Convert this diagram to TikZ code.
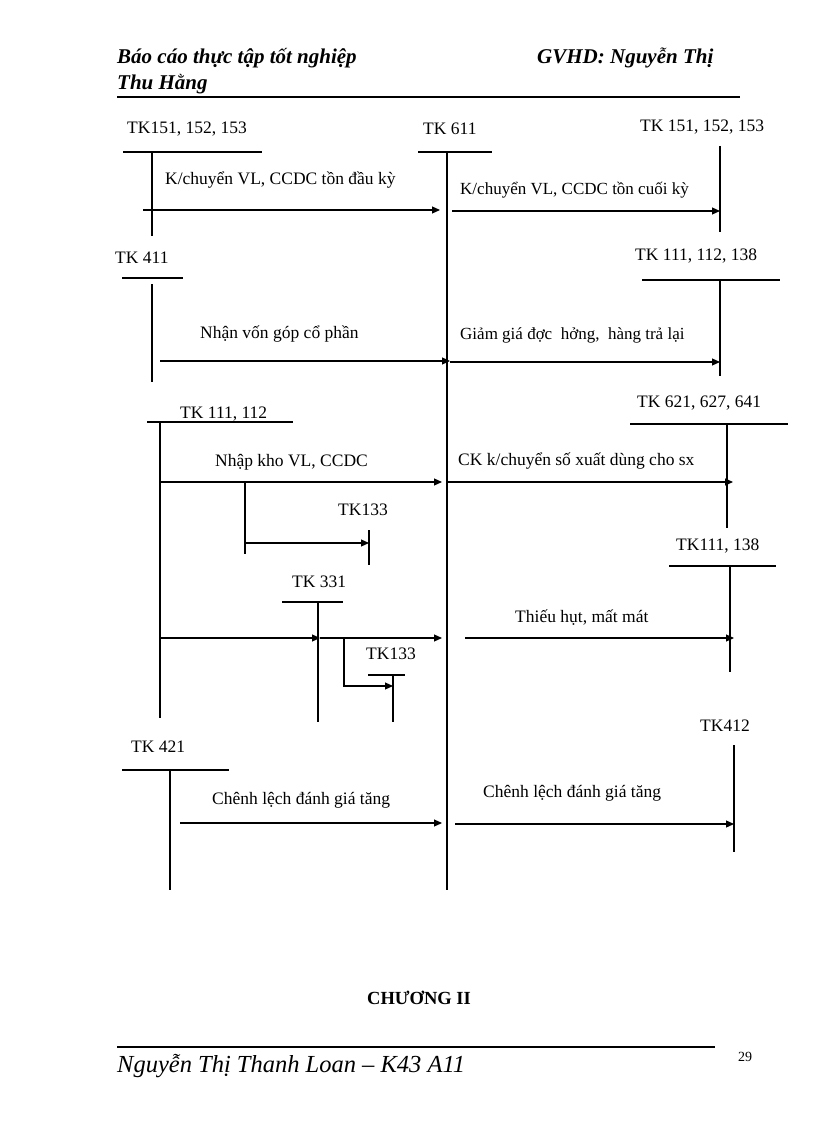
\documentclass[tikz,border=0pt]{standalone}
\usepackage{fontspec}
\setmainfont{Liberation Serif}
\usetikzlibrary{arrows.meta}
\begin{document}
\begin{tikzpicture}[x=1pt,y=-1pt,
  lbl/.style={anchor=west,inner sep=0pt,font=\fontsize{17.5}{20}\selectfont},
  sm/.style={anchor=west,inner sep=0pt,font=\fontsize{17}{20}\selectfont},
  hd/.style={anchor=west,inner sep=0pt,font=\fontsize{21}{24}\selectfont\bfseries\itshape},
  ln/.style={line width=1.1pt},
  ar/.style={line width=1.1pt,-{Triangle[length=8pt,width=7pt]}}]
\useasboundingbox (0,0) rectangle (816,1123);
% header
\node[hd] (h1) at (117,58) {Báo cáo thực tập tốt nghiệp};
\node[hd] (h2) at (537,58) {GVHD: Nguyễn Thị};
\node[hd] (h3) at (117,84) {Thu Hằng};
\draw[line width=1.4pt] (117,97) -- (740,97);
% account labels
\node[lbl] (a1) at (127,129) {TK151, 152, 153};
\node[lbl] (a2) at (423,129) {TK 611};
\node[lbl] (a3) at (640,127) {TK 151, 152, 153};
\node[lbl] (a4) at (115,258) {TK 411};
\node[lbl] (a5) at (635,256) {TK 111, 112, 138};
\node[lbl] (a6) at (180,414) {TK 111, 112};
\node[lbl] (a7) at (637,403) {TK 621, 627, 641};
\node[lbl] (a8) at (338,510) {TK133};
\node[lbl] (a9) at (676,546) {TK111, 138};
\node[lbl] (a10) at (292,582) {TK 331};
\node[lbl] (a11) at (366,654) {TK133};
\node[lbl] (a12) at (131,747) {TK 421};
\node[lbl] (a13) at (700,726) {TK412};
% T-account lines
\draw[ln] (123,152)--(262,152) (152,152)--(152,236);
\draw[ln] (418,152)--(492,152) (447,152)--(447,890);
\draw[ln] (720,146)--(720,232);
\draw[ln] (122,278)--(183,278) (152,284)--(152,382);
\draw[ln] (642,280)--(780,280) (720,280)--(720,376);
\draw[ln] (147,422)--(293,422) (160,422)--(160,718);
\draw[ln] (630,424)--(788,424) (727,424)--(727,528);
\draw[ln] (369,530)--(369,565);
\draw[ln] (669,566)--(776,566) (730,566)--(730,672);
\draw[ln] (282,602)--(343,602) (318,602)--(318,722);
\draw[ln] (368,675)--(405,675) (393,675)--(393,722);
\draw[ln] (122,770)--(229,770) (170,770)--(170,890);
\draw[ln] (734,745)--(734,852);
% flows
\coordinate (s1) at (143,210); \coordinate (e1) at (440,210);
\draw[ar] (s1)--(e1);
\node[lbl] (t1) at (165,180) {K/chuyển VL, CCDC tồn đầu kỳ};
\coordinate (s2) at (452,211); \coordinate (e2) at (720,211);
\draw[ar] (s2)--(e2);
\node[sm] (t2) at (460,190) {K/chuyển VL, CCDC tồn cuối kỳ};
\coordinate (s3) at (160,361); \coordinate (e3) at (450,361);
\draw[ar] (s3)--(e3);
\node[lbl] (t3) at (200,334) {Nhận vốn góp cổ phần};
\coordinate (s4) at (450,362); \coordinate (e4) at (720,362);
\draw[ar] (s4)--(e4);
\node[sm] (t4) at (460,335) {Giảm giá đợc\enspace hởng,\enspace hàng trả lại};
\coordinate (s5) at (160,482); \coordinate (e5) at (442,482);
\draw[ar] (s5)--(e5);
\node[lbl] (t5) at (215,462) {Nhập kho VL, CCDC};
\coordinate (s6) at (447,482); \coordinate (e6) at (733,482);
\draw[ar] (s6)--(e6);
\node[lbl] (t6) at (458,461) {CK k/chuyển số xuất dùng cho sx};
\coordinate (b1) at (245,482); \coordinate (b2) at (245,554); \coordinate (b3) at (245,543); \coordinate (b4) at (369,543);
\draw[ln] (b1)--(b2); \draw[ar] (b3)--(b4);
\coordinate (s7) at (160,638); \coordinate (m7) at (320,638); \coordinate (e7) at (442,638);
\draw[ar] (s7)--(m7); \draw[ar] (m7)--(e7);
\coordinate (s8) at (465,638); \coordinate (e8) at (734,638);
\draw[ar] (s8)--(e8);
\node[lbl] (t8) at (515,618) {Thiếu hụt, mất mát};
\coordinate (c1) at (344,638); \coordinate (c2) at (344,686); \coordinate (c3) at (393,686);
\draw[ar] (c1)--(c2)--(c3);
\coordinate (s9) at (180,823); \coordinate (e9) at (442,823);
\draw[ar] (s9)--(e9);
\node[lbl] (t9) at (212,800) {Chênh lệch đánh giá tăng};
\coordinate (s10) at (455,824); \coordinate (e10) at (734,824);
\draw[ar] (s10)--(e10);
\node[lbl] (t10) at (483,793) {Chênh lệch đánh giá tăng};
% footer
\node[anchor=west,inner sep=0pt,font=\fontsize{18.5}{22}\selectfont\bfseries] (ch) at (367,998) {CHƯƠNG II};
\draw[line width=1.4pt] (117,1047) -- (715,1047);
\node[anchor=west,inner sep=0pt,font=\fontsize{24.5}{28}\selectfont\itshape] (ft) at (117,1066) {Nguyễn Thị Thanh Loan – K43 A11};
\node[anchor=west,inner sep=0pt,font=\fontsize{14}{16}\selectfont] (pg) at (738,1057) {29};
\end{tikzpicture}
\end{document}
